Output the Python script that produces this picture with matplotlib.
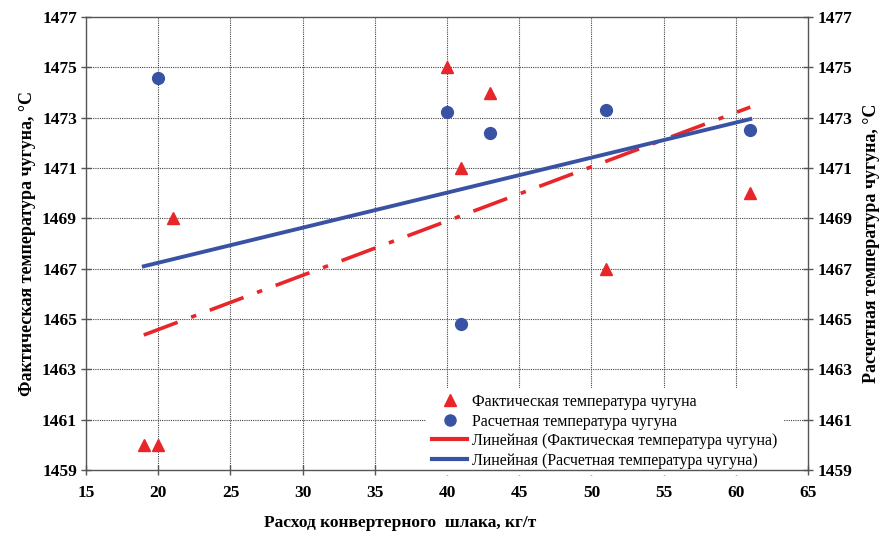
import numpy as np
import matplotlib
matplotlib.use("Agg")
import matplotlib.pyplot as plt
from matplotlib.lines import Line2D

plt.rcParams['font.family'] = ['Liberation Serif', 'DejaVu Serif']

# Data
x_actual = [19, 20, 21, 40, 41, 43, 51, 61]
t_actual = [1460, 1460, 1469, 1475, 1471, 1474, 1467, 1470]
x_calc = [20, 40, 41, 43, 51, 61]
t_calc = [1474.6, 1473.25, 1464.8, 1472.4, 1473.3, 1472.5]
# Linear trend of calculated temperature (endpoints)
trend_x = [19, 61]
trend_calc = [1467.1, 1472.95]

xticks = list(range(15, 66, 5))
yticks = list(range(1459, 1478, 2))

lab_actual = "Фактическая температура чугуна"
lab_calc = "Расчетная температура чугуна"
lab_lin_actual = "Линейная (Фактическая температура чугуна)"
lab_lin_calc = "Линейная (Расчетная температура чугуна)"

RED = '#e8262a'
BLUE = '#3a52a4'

fig = plt.figure(figsize=(8.87, 5.36), dpi=100)
ax = fig.add_axes([0.097, 0.123, 0.814, 0.845])

# Grid lines (drawn beneath the legend, ticks and spines)
for yv in yticks[1:-1]:
    ax.axhline(yv, color='#444444', linestyle=(0, (1, 1)), linewidth=0.8, zorder=0.5)
for xv in xticks[1:-1]:
    ax.axvline(xv, color='#444444', linestyle=(0, (1, 1)), linewidth=0.8, zorder=0.5)

# Trend for actual temperature via least-squares
coef = np.polyfit(x_actual, t_actual, 1)
tx = np.array([min(x_actual), max(x_actual)])
ax.plot(tx, np.polyval(coef, tx), color=RED, lw=2.6,
        dashes=(10, 4, 1.5, 4), zorder=3)
ax.plot(trend_x, trend_calc, color=BLUE, lw=2.8, zorder=3)
ax.plot(x_actual, t_actual, linestyle='none', marker='^', ms=9, color=RED, zorder=4)
ax.plot(x_calc, t_calc, linestyle='none', marker='o', ms=8.5, color=BLUE, zorder=4)

ax.set_xlim(15, 65)
ax.set_ylim(1459, 1477)
ax.set_xticks(xticks)
ax.set_yticks(yticks)
for s in ax.spines.values():
    s.set_color('#555555')
    s.set_linewidth(1.0)
ax.tick_params(direction='inout', length=7, width=1, color='#555555',
               labelsize=12.5)
ax.tick_params(axis='x', pad=7)
ax.tick_params(axis='y', pad=3)
for lbl in ax.get_xticklabels() + ax.get_yticklabels():
    lbl.set_fontweight('bold')

ax2 = ax.twinx()
ax2.set_ylim(1459, 1477)
ax2.set_yticks(yticks)
ax2.tick_params(direction='inout', length=7, width=1, color='#555555',
                labelsize=12.5, pad=3)
for lbl in ax2.get_yticklabels():
    lbl.set_fontweight('bold')
for s in ax2.spines.values():
    s.set_visible(False)

ax.set_ylabel("Фактическая температура чугуна, °С", fontsize=13,
              fontweight='bold', labelpad=4)
ax2.set_ylabel("Расчетная температура чугуна, °С", fontsize=13,
               fontweight='bold', labelpad=8)
fig.text(400 / 887, 1 - 523 / 536, "Расход конвертерного  шлака, кг/т",
         fontsize=12.5, fontweight='bold', ha='center', va='center')

h_leg = [
    Line2D([], [], linestyle='none', marker='^', ms=8, color=RED),
    Line2D([], [], linestyle='none', marker='o', ms=8, color=BLUE),
    Line2D([], [], color=RED, lw=3),
    Line2D([], [], color=BLUE, lw=3),
]
l_leg = [lab_actual, lab_calc, lab_lin_actual, lab_lin_calc]
leg = ax.legend(h_leg, l_leg, loc='lower left', bbox_to_anchor=(0.467, -0.016),
                frameon=True, fancybox=False, edgecolor='none', facecolor='white',
                framealpha=1.0, fontsize=11.5, labelspacing=0.22,
                handlelength=2.2, handletextpad=0.3, borderpad=0.4,
                borderaxespad=0.15)
leg.set_zorder(2)

fig.savefig("out.png", dpi=100)
